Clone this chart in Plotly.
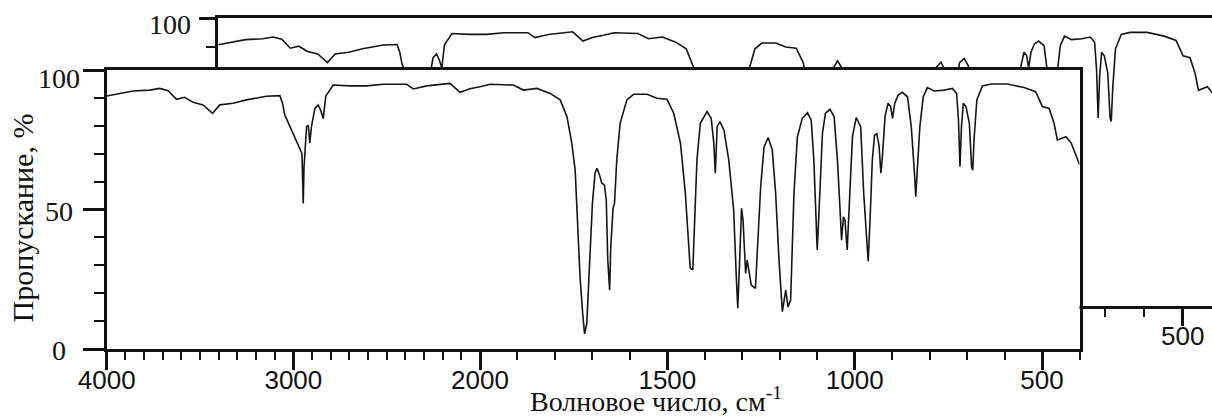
import plotly.graph_objects as go

# ---------------- data (IR spectrum: wavenumber, cm^-1 / transmittance, %) ----------------
wavenumber = [
    4000, 3930, 3859, 3769, 3716, 3671, 3626, 3582, 3537, 3484, 3433, 3394, 3323, 3251,
    3144, 3072, 3058, 3046, 3019, 2992, 2965, 2954, 2950, 2947, 2943, 2938, 2929, 2920,
    2912, 2903, 2885, 2867, 2853, 2840, 2826, 2787, 2697, 2608, 2518, 2393, 2357, 2286,
    2161, 2107, 2054, 2000,
    1973, 1911, 1884, 1848, 1813, 1786, 1768, 1755, 1746, 1739, 1733, 1726, 1721, 1715,
    1708, 1700, 1693, 1688, 1681, 1675, 1668, 1663, 1659, 1654, 1651, 1645, 1641, 1635,
    1626, 1608, 1590, 1554, 1528, 1501, 1483, 1465, 1452, 1443, 1439, 1432, 1428, 1421,
    1412, 1394, 1383, 1376, 1372, 1367, 1360, 1349, 1336, 1323, 1316, 1312, 1307, 1302,
    1298, 1291, 1287, 1281, 1276, 1265, 1259, 1251, 1242, 1231, 1220, 1211, 1202, 1193,
    1184, 1178, 1171, 1166, 1162, 1153, 1140, 1126, 1116, 1109, 1102, 1100, 1093, 1086,
    1078, 1066, 1055, 1046, 1039, 1035, 1030, 1026, 1020, 1013, 1006, 996, 984, 976,
    968, 964, 959, 953, 947, 941, 935, 930, 926, 919, 911, 904, 899, 893,
    884, 873, 859, 849, 841, 837, 833, 826, 817, 806, 788, 761, 739, 728,
    723, 719, 715, 710, 703, 694, 688, 685, 681, 674, 659, 636, 592, 548,
    517, 499, 481, 468, 459, 436, 422, 400,
]
transmittance = [
    90.7, 91.6, 92.5, 92.8, 93.4, 92.6, 89.5, 90.2, 88.4, 87.5, 84.5, 87.5, 88.1, 89.3,
    90.6, 90.8, 88.1, 83.9, 79.7, 75.5, 71.3, 70.1, 60.0, 52.2, 65.0, 70.0, 79.7, 80.3,
    73.8, 79.7, 86.2, 87.5, 85.5, 82.6, 90.7, 94.6, 94.3, 94.3, 94.9, 94.9, 93.2, 94.3,
    95.2, 92.0, 93.3, 94.0,
    94.9, 94.6, 92.8, 93.4, 91.6, 89.3, 83.3, 73.8, 64.1, 43.8, 25.9, 12.8, 5.4, 9.2,
    29.5, 52.2, 63.0, 64.8, 62.4, 59.4, 58.8, 53.4, 31.9, 21.1, 36.6, 50.4, 52.2, 67.7,
    80.9, 89.3, 91.3, 91.3, 89.9, 89.5, 84.5, 73.8, 55.9, 36.8, 29.0, 28.4, 43.8, 67.7,
    80.9, 85.1, 82.7, 73.8, 63.0, 79.7, 81.5, 78.5, 67.7, 49.8, 25.9, 14.6, 31.9, 50.4,
    46.2, 27.1, 31.9, 25.9, 22.9, 21.7, 36.6, 58.0, 72.3, 75.8, 71.3, 55.9, 31.9, 13.4,
    21.1, 15.1, 17.5, 35.0, 55.9, 76.0, 82.6, 84.7, 82.0, 67.7, 43.8, 35.5, 55.9, 77.4,
    84.5, 85.9, 83.3, 67.7, 49.8, 39.0, 47.4, 46.2, 35.5, 55.9, 76.0, 82.9, 79.7, 55.9,
    36.8, 31.5, 46.2, 67.7, 76.6, 77.2, 73.0, 63.0, 69.0, 83.3, 88.1, 86.9, 82.7, 88.1,
    91.0, 92.0, 90.4, 79.7, 64.1, 54.6, 64.1, 79.7, 90.4, 93.7, 92.5, 92.8, 93.4, 91.6,
    82.0, 65.3, 79.7, 88.1, 86.9, 80.9, 65.3, 64.1, 76.0, 89.3, 94.3, 95.0, 95.0, 93.7,
    92.2, 86.9, 86.2, 80.9, 74.9, 76.1, 73.8, 66.1,
]

# tick / label definitions
x_major_high = [4000, 3000]
x_major_low = [2000, 1500, 1000, 500]
y_label_vals = [0, 50, 100]
y_label_text = ["0", "50", "100"]
back_x_major = [500]
back_y_label_vals = [100]
back_y_label_text = ["100"]
x_title = "Волновое число, см<sup>-1</sup>"
y_title = "Пропускание, %"

# ---------------- layout geometry (pixels of the 1212x417 canvas) ----------------
W, H = 1212, 417


def fx(px):
    return px / W


def fy(py):
    return (H - py) / H


FRONT_L, FRONT_B, FRONT_R, FRONT_T = 106.7, 349, 1079.5, 70
FRONT_BRK = 480            # 2000 cm-1 (scale change)
BACK_L, BACK_B, BACK_T = 218.3, 306, 18
BACK_BRK = 603.6           # 2000 cm-1 on the copy behind
BACK_END_WN = 424          # wavenumber at right window edge for the copy behind

LINE = dict(color="#151515", width=1.6)
AX_COL = "#111111"
SANS = "Liberation Sans"
SERIF = "Liberation Serif"

fig = go.Figure()

# back copy (drawn first -> lies behind)
fig.add_trace(go.Scatter(x=wavenumber, y=transmittance, mode="lines", line=LINE,
                         xaxis="x", yaxis="y", hoverinfo="skip"))
fig.add_trace(go.Scatter(x=wavenumber, y=transmittance, mode="lines", line=LINE,
                         xaxis="x2", yaxis="y", hoverinfo="skip"))
# front panel
fig.add_trace(go.Scatter(x=wavenumber, y=transmittance, mode="lines", line=LINE,
                         xaxis="x3", yaxis="y2", hoverinfo="skip"))
fig.add_trace(go.Scatter(x=wavenumber, y=transmittance, mode="lines", line=LINE,
                         xaxis="x4", yaxis="y3", hoverinfo="skip"))

common_x = dict(showgrid=False, zeroline=False, showline=True, linecolor=AX_COL,
                linewidth=2.5, mirror=True, ticks="outside", tickcolor=AX_COL,
                tickfont=dict(family=SANS, size=26, color="#111"), fixedrange=True,
                automargin=False, ticklabelstandoff=-12)
common_y = dict(showgrid=False, zeroline=False, showline=True, linecolor=AX_COL,
                linewidth=2.5, tickcolor=AX_COL, fixedrange=True, automargin=False)

minor_x = dict(ticks="outside", ticklen=8, tickwidth=2, tickcolor=AX_COL, dtick=100, tick0=0)
minor_y = dict(ticks="outside", ticklen=10, tickwidth=2, tickcolor=AX_COL, dtick=10, tick0=0)

fig.update_layout(
    template="none",
    width=W, height=H,
    margin=dict(l=0, r=0, t=0, b=0, pad=0, autoexpand=False),
    paper_bgcolor="white", plot_bgcolor="white",
    showlegend=False,
    # ---- back copy ----
    xaxis=dict(common_x, domain=[fx(BACK_L), fx(BACK_BRK)], range=[4000, 2000],
               anchor="y", tickvals=[], ticklen=17, tickwidth=3, showticklabels=False,
               minor=minor_x),
    xaxis2=dict(common_x, domain=[fx(BACK_BRK), 1.0], range=[2000, BACK_END_WN],
                anchor="y", tickvals=back_x_major, ticktext=[str(v) for v in back_x_major],
                ticklen=17, tickwidth=3, minor=minor_x),
    yaxis=dict(common_y, domain=[fy(BACK_B), fy(BACK_T)], range=[0, 100], anchor="x",
               ticks="outside", tickvals=back_y_label_vals, ticklen=17, tickwidth=3,
               showticklabels=False, minor=minor_y),
    # ---- front panel ----
    xaxis3=dict(common_x, domain=[fx(FRONT_L), fx(FRONT_BRK)], range=[4000, 2000],
                anchor="y2", tickvals=x_major_high, ticktext=[str(v) for v in x_major_high],
                ticklen=18, tickwidth=3, minor=minor_x),
    xaxis4=dict(common_x, domain=[fx(FRONT_BRK), fx(FRONT_R)], range=[2000, 400],
                anchor="y3", tickvals=x_major_low, ticktext=[str(v) for v in x_major_low],
                ticklen=18, tickwidth=3, minor=minor_x),
    yaxis2=dict(common_y, domain=[fy(FRONT_B), fy(FRONT_T)], range=[0, 100], anchor="x3",
                ticks="outside", tickvals=y_label_vals, ticklen=21, tickwidth=3,
                showticklabels=False, minor=minor_y),
    yaxis3=dict(common_y, domain=[fy(FRONT_B), fy(FRONT_T)], range=[0, 100], anchor="x4",
                matches="y2", side="right", ticks="", showticklabels=False),
)

# y tick labels (centred under one another, as in the original)
label_yshift = {0: -1, 50: -2, 100: -9}
for v, t in zip(y_label_vals, y_label_text):
    fig.add_annotation(x=fx(59), xref="paper", y=v, yref="y2", text=t, showarrow=False,
                       xanchor="center", yanchor="middle", yshift=label_yshift[v],
                       font=dict(family=SERIF, size=28, color="#111"))
for v, t in zip(back_y_label_vals, back_y_label_text):
    fig.add_annotation(x=fx(169.5), xref="paper", y=v, yref="y", text=t, showarrow=False,
                       xanchor="center", yanchor="middle", yshift=-7,
                       font=dict(family=SERIF, size=28, color="#111"))

# axis titles
fig.add_annotation(x=fx(656), xref="paper", y=fy(419), yref="paper", text=x_title,
                   showarrow=False, xanchor="center", yanchor="bottom",
                   font=dict(family=SERIF, size=28, color="#111"))
fig.add_annotation(x=fx(22), xref="paper", y=fy(218.5), yref="paper", text=y_title,
                   showarrow=False, textangle=-90, xanchor="center", yanchor="middle",
                   font=dict(family=SERIF, size=30, color="#111"))

fig.write_html("out.html")
